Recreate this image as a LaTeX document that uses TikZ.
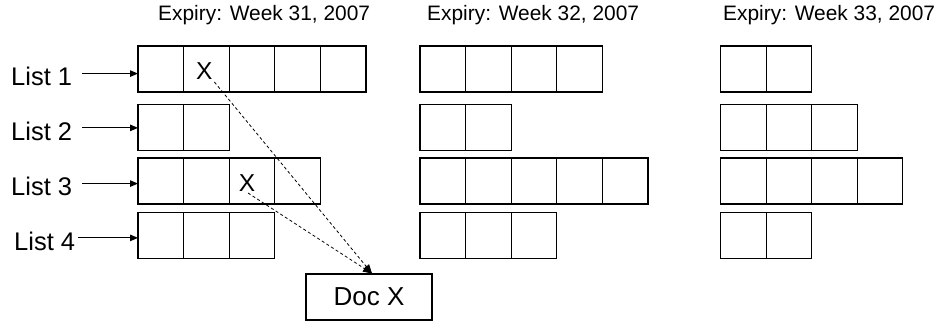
\documentclass[tikz,border=0pt]{standalone}
\usepackage{fontspec}
\setmainfont{Liberation Sans}
\usetikzlibrary{arrows.meta,calc}
\begin{document}
\begin{tikzpicture}[x=1pt,y=-1pt,
  cell/.style={draw, line width=1.1pt, minimum width=45.6pt, minimum height=46pt,
    inner sep=0pt, outer sep=0pt, anchor=north west},
  listlabel/.style={inner sep=0pt, anchor=base west, font=\fontsize{25.5}{30}\selectfont},
  header/.style={inner sep=0pt, anchor=base west, font=\fontsize{20.9}{24}\selectfont},
  xmark/.style={inner sep=0pt, font=\fontsize{24.5}{28}\selectfont},
  arr/.style={line width=1pt, -{Triangle[length=8pt,width=6.5pt]}},
  darr/.style={line width=0.8pt, dash pattern=on 3pt off 2.5pt, -{Triangle[length=9pt,width=7pt]}},
  docbox/.style={draw, line width=1.1pt, minimum width=126pt, minimum height=46pt,
    inner sep=0pt, font=\fontsize{26}{30}\selectfont}]
\useasboundingbox (0,0) rectangle (937,322);
% headers
\node[header] (h1) at (158,20.7) {Expiry: Week 31, 2007};
\node[header] (h2) at (427,20.7) {Expiry: Week 32, 2007};
\node[header] (h3) at (723,20.7) {Expiry: Week 33, 2007};
% cells
\foreach \g/\r/\n in {1/1/5,1/2/2,1/3/4,1/4/3,2/1/4,2/2/2,2/3/5,2/4/3,3/1/2,3/2/3,3/3/4,3/4/2}{
  \pgfmathsetmacro{\gx}{{138,420,720.5}[\g-1]}
  \pgfmathsetmacro{\ry}{{46,104.5,158,212.5}[\r-1]}
  \foreach \i in {1,...,\n}{
    \node[cell] (c\g-\r-\i) at ({\gx+(\i-1)*45.6},\ry) {};
  }
}
% labels
\node[listlabel] (l1) at (11,85.7) {List 1};
\node[listlabel] (l2) at (11,140) {List 2};
\node[listlabel] (l3) at (11,195.7) {List 3};
\node[listlabel] (l4) at (14,250) {List 4};
\draw[arr] ($(l1.east)+(10,-3)$) -- ($(l1.east -| c1-1-1.west)+(0,-3)$);
\draw[arr] ($(l2.east)+(10,-3)$) -- ($(l2.east -| c1-2-1.west)+(0,-3)$);
\draw[arr] ($(l3.east)+(10,-3)$) -- ($(l3.east -| c1-3-1.west)+(0,-3)$);
\draw[arr] ($(l4.east)+(3,-3)$) -- ($(l4.east -| c1-4-1.west)+(0,-3)$);
% marks
\node[xmark] (x1) at ($(c1-1-2.center)+(-2,2)$) {X};
\node[xmark] (x2) at ($(c1-3-3.center)+(-5,2)$) {X};
% doc
\node[docbox] (docx) at (369,297) {\raisebox{-3pt}{Doc X}};
\draw[darr] ($(x1)+(10,11)$) -- ($(docx.north)+(3,0)$);
\draw[darr] ($(x2)+(1,10)$) -- ($(docx.north)+(3,0)$);
\end{tikzpicture}
\end{document}
